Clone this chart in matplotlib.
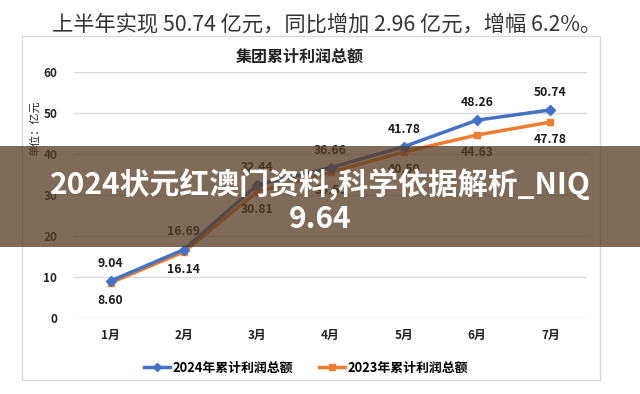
import matplotlib
matplotlib.use("Agg")
import matplotlib.pyplot as plt
from matplotlib.patches import Rectangle
from matplotlib.lines import Line2D

plt.rcParams['font.family'] = ['Noto Sans CJK SC', 'DejaVu Sans']

months = ['1月', '2月', '3月', '4月', '5月', '6月', '7月']
profit_2024 = [9.04, 16.69, 32.44, 36.66, 41.78, 48.26, 50.74]
profit_2023 = [8.60, 16.14, 30.81, 35.50, 40.50, 44.63, 47.78]
labels_2024 = ['9.04', '16.69', '32.44', '36.66', '41.78', '48.26', '50.74']
labels_2023 = ['8.60', '16.14', '30.81', '35.50', '40.50', '44.63', '47.78']
yticks = [0, 10, 20, 30, 40, 50, 60]

W, H = 640, 394
fig = plt.figure(figsize=(6.4, 3.94), dpi=100)
fig.patch.set_facecolor('white')

# chart frame
fig.add_artist(Rectangle((22 / W, 1 - 380 / H), (600 - 22) / W, (380 - 36) / H,
                         transform=fig.transFigure, facecolor='white',
                         edgecolor='#d9d9d9', lw=1, zorder=0))

ax = fig.add_axes([74 / W, (H - 318) / H, (587 - 74) / W, (318 - 72) / H])
ax.set_facecolor('none')
x = list(range(len(months)))
ax.plot(x, profit_2023, color='#ED7D31', lw=2.5, marker='s', ms=5, zorder=3)
ax.plot(x, profit_2024, color='#4472C4', lw=2.5, marker='D', ms=5, zorder=4)

for xi, v, t in zip(x, profit_2024, labels_2024):
    ax.annotate(t, (xi, v), xytext=(0, 8), textcoords='offset points',
                ha='center', va='bottom', fontsize=8.8, fontweight='bold', color='#1a1a1a')
for xi, v, t in zip(x, profit_2023, labels_2023):
    ax.annotate(t, (xi, v), xytext=(0, -8), textcoords='offset points',
                ha='center', va='top', fontsize=8.8, fontweight='bold', color='#1a1a1a')

ax.set_xlim(-0.5, 6.5)
ax.set_ylim(0, 60)
ax.set_yticks(yticks)
ax.set_yticklabels([str(v) for v in yticks], fontsize=8.5, fontweight='bold', color='#222222')
ax.set_xticks(x)
ax.set_xticklabels(months, fontsize=8.5, fontweight='bold', color='#222222')
ax.tick_params(axis='both', length=0)
ax.tick_params(axis='y', pad=12)
ax.tick_params(axis='x', pad=8)
ax.grid(axis='y', color='#d9d9d9', lw=1)
ax.set_axisbelow(True)
for s in ax.spines.values():
    s.set_visible(False)

fig.text(35 / W, 1 - 128 / H, '单位：亿元', rotation=90, ha='center', va='center',
         fontsize=8, color='#222222')
fig.text(300 / W, 1 - 57 / H, '集团累计利润总额', ha='center', va='center',
         fontsize=11.5, fontweight='bold', color='#222222')
fig.text(327 / W, 1 - 24 / H, '上半年实现 50.74 亿元，同比增加 2.96 亿元，增幅 6.2%。',
         ha='center', va='center', fontsize=15.3, color='#333333')

handles = [Line2D([], [], color='#4472C4', lw=2.5, marker='D', ms=4),
           Line2D([], [], color='#ED7D31', lw=2.5, marker='s', ms=4)]
fig.legend(handles, ['2024年累计利润总额', '2023年累计利润总额'], loc='center',
           bbox_to_anchor=(306 / W, 1 - 368 / H), ncol=2, frameon=False,
           prop={'size': 9.3, 'weight': 'bold'}, handlelength=2.0, handletextpad=0.2,
           columnspacing=2.0)

# overlay band
fig.add_artist(Rectangle((0, 1 - 247 / H), 1, (247 - 146) / H, transform=fig.transFigure,
                         facecolor=(0.345, 0.24, 0.14), alpha=0.76, lw=0, zorder=10))
fig.text(320 / W, 1 - 184 / H, '2024状元红澳门资料,科学依据解析_NIQ', ha='center', va='center',
         fontsize=21.5, fontweight='bold', color='white', zorder=11)
fig.text(320 / W, 1 - 219 / H, '9.64', ha='center', va='center',
         fontsize=21.5, fontweight='bold', color='white', zorder=11)

fig.savefig('out.png', dpi=100)
